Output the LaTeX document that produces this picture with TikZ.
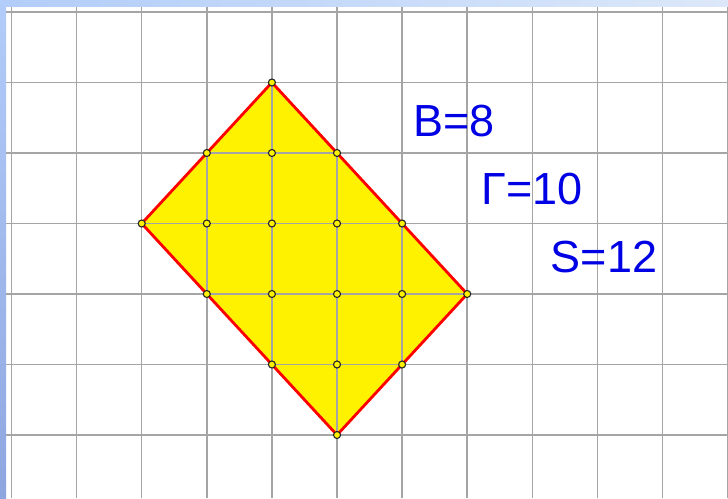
\documentclass[tikz,border=0pt]{standalone}
\usepackage{fontspec}
\setmainfont{Liberation Sans}

\definecolor{bleutexte}{RGB}{0,0,228}
\definecolor{grisgrille}{RGB}{165,165,165}
\definecolor{bleuclair}{RGB}{178,205,249}
\definecolor{bleufonce}{RGB}{142,166,224}
\definecolor{bleupale}{RGB}{220,232,249}

\tikzset{
    grille/.style={grisgrille, line width=1.1pt},
    contour/.style={red, line width=2pt, line join=round},
    pointreseau/.style={draw=black!85, fill=yellow, line width=0.8pt},
    texte/.style={bleutexte, inner sep=0pt, font=\fontsize{32}{36}\selectfont}
}

\begin{document}
\begin{tikzpicture}[x=1.6275cm, y=-1.7625cm]
        % Cadre de l'image
        \useasboundingbox (-0.1767,-0.1702) rectangle (11.006,6.8936);
        \fill[white] (-0.1767,-0.1702) rectangle (11.006,6.8936);
        % Bandes bleues (bord gauche et haut)
        \shade[top color=bleuclair, bottom color=bleufonce] (-0.1767,-0.1702) rectangle (-0.0845,6.8936);
        \shade[left color=bleuclair, right color=bleupale] (-0.0845,-0.1702) rectangle (11.006,-0.0709);
        % Sommets du rectangle
        \coordinate (haut) at (4,1);
        \coordinate (gauche) at (2,3);
        \coordinate (bas) at (5,6);
        \coordinate (droite) at (7,4);
        % Remplissage jaune
        \fill[yellow] (haut) -- (gauche) -- (bas) -- (droite) -- cycle;
        % Quadrillage
        \foreach \i in {0,...,11}
            \draw[grille] (\i,-0.0709) -- (\i,6.8936);
        \foreach \j in {0,...,6}
            \draw[grille] (-0.0845,\j) -- (11.006,\j);
        % Contour rouge
        \draw[contour] (haut) -- (gauche) -- (bas) -- (droite) -- cycle;
        % Noeuds du réseau (bord puis intérieur)
        \foreach \p in {(4,1),(3,2),(2,3),(3,4),(4,5),(5,6),(6,5),(7,4),(6,3),(5,2),
                        (4,2),(3,3),(4,3),(5,3),(4,4),(5,4),(6,4),(5,5)}
            \draw[pointreseau] \p circle (2.5pt);
        % Formule de Pick
        \node[texte] (interieur) at (6.797,1.546) {В=8};
        \node[texte] (bord) at (7.995,2.511) {Г=10};
        \node[texte] (aire) at (9.101,3.482) {S=12};
    \end{tikzpicture}
\end{document}
